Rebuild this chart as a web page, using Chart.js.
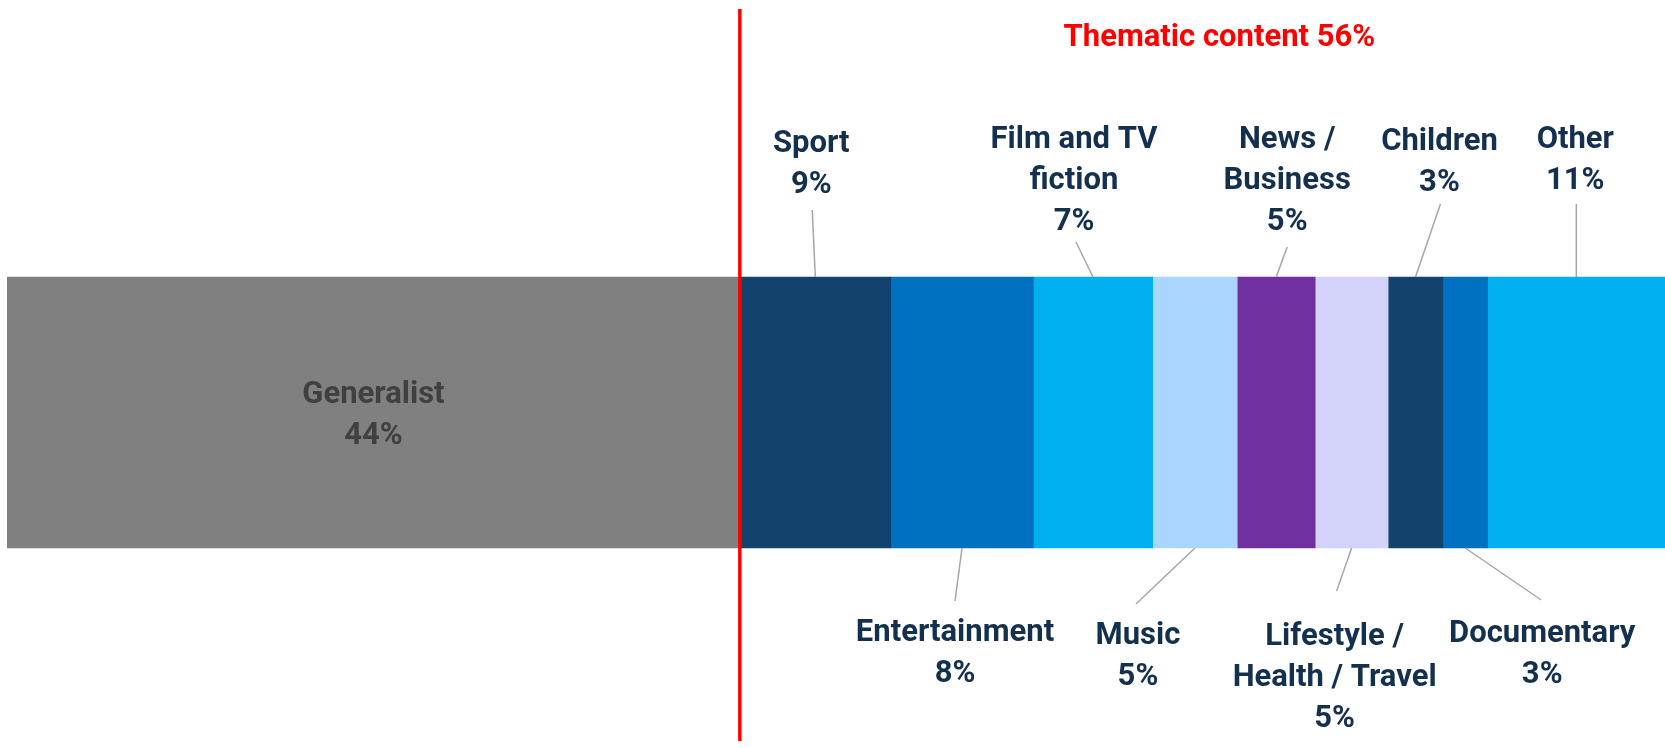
<!DOCTYPE html>
<html>
<head>
<meta charset="utf-8">
<script src="https://cdn.jsdelivr.net/npm/chart.js@4/dist/chart.umd.min.js"></script>
<style>
  html, body { margin: 0; padding: 0; background: #fff; }
  canvas { display: block; }
</style>
</head>
<body>
<canvas id="myChart" width="1665" height="748"></canvas>
<script>
// segment names (\n = line break in the label)
const categories = ['Generalist', 'Sport', 'Entertainment', 'Film and TV\nfiction', 'Music',
  'News /\nBusiness', 'Lifestyle /\nHealth / Travel', 'Children', 'Documentary', 'Other'];
// segment widths (percent of the whole)
const shares = [44.2, 9.1, 8.6, 7.2, 5.1, 4.7, 4.4, 3.3, 2.7, 10.7];
// printed percentages
const shareLabels = ['44%', '9%', '8%', '7%', '5%', '5%', '5%', '3%', '3%', '11%'];
const colors = ['#808080', '#12436D', '#0070C0', '#00B0F0', '#AAD5FE',
  '#7030A0', '#D3D2F8', '#12436D', '#0070C0', '#00B0F0'];
const thematicTitle = 'Thematic content 56%';

// label placement: [lineEndDx, lineEndDy, textDx, textDy] relative to bar edge centre
// (null = label inside the bar)
const labelLayout = [
  null,
  [-3, -67, -4, -133],
  [-7, 53, -7, 85],
  [-17, -35, -19, -137],
  [-59, 56, -57, 88],
  [11, -30, 11, -137],
  [-15, 43, -17, 89],
  [25, -73, 24, -135],
  [76, 52, 77, 86],
  [0, -73, -1, -137]
];

const FONT = 'bold 31px Roboto, "Open Sans", sans-serif';
const LINE_H = 41;

const labelPlugin = {
  id: 'segmentLabels',
  afterDatasetsDraw(chart) {
    const ctx = chart.ctx;
    ctx.save();
    ctx.font = FONT;
    ctx.textAlign = 'center';
    ctx.textBaseline = 'middle';
    chart.data.datasets.forEach((ds, i) => {
      const el = chart.getDatasetMeta(i).data[0];
      const cx = (el.x + el.base) / 2;
      const top = el.y - el.height / 2;
      const bottom = el.y + el.height / 2;
      const lines = categories[i].split('\n').concat([shareLabels[i]]);
      const lay = labelLayout[i];
      if (!lay) {
        ctx.fillStyle = '#404040';
        const y0 = el.y + 3 - (lines.length - 1) * LINE_H / 2;
        lines.forEach((t, k) => ctx.fillText(t, cx, y0 + k * LINE_H));
        return;
      }
      const edge = lay[1] < 0 ? top : bottom;
      ctx.strokeStyle = '#A6A6A6';
      ctx.lineWidth = 1.5;
      ctx.beginPath();
      ctx.moveTo(cx, edge);
      ctx.lineTo(cx + lay[0], edge + lay[1]);
      ctx.stroke();
      ctx.fillStyle = '#14304F';
      lines.forEach((t, k) => ctx.fillText(t, cx + lay[2], edge + lay[3] + k * LINE_H));
    });

    // red divider between generalist and thematic content
    const xs = chart.scales.x;
    const xDiv = xs.getPixelForValue(shares[0]);
    ctx.strokeStyle = '#FF0000';
    ctx.lineWidth = 3.5;
    ctx.beginPath();
    ctx.moveTo(xDiv, 9);
    ctx.lineTo(xDiv, 741);
    ctx.stroke();

    ctx.fillStyle = '#FF0000';
    const xMid = (xDiv + xs.getPixelForValue(100)) / 2;
    ctx.fillText(thematicTitle, xMid + 17, 38);
    ctx.restore();
  }
};

new Chart(document.getElementById('myChart'), {
  type: 'bar',
  data: {
    labels: [''],
    datasets: categories.map((c, i) => ({
      label: c,
      data: [shares[i]],
      backgroundColor: colors[i],
      borderWidth: 0,
      barThickness: 271
    }))
  },
  options: {
    indexAxis: 'y',
    responsive: false,
    animation: false,
    layout: { padding: { left: 7, right: 0, top: 77, bottom: 0 } },
    scales: {
      x: { stacked: true, min: 0, max: 100, display: false },
      y: { stacked: true, display: false }
    },
    plugins: {
      legend: { display: false },
      tooltip: { enabled: false }
    }
  },
  plugins: [labelPlugin]
});
</script>
</body>
</html>
